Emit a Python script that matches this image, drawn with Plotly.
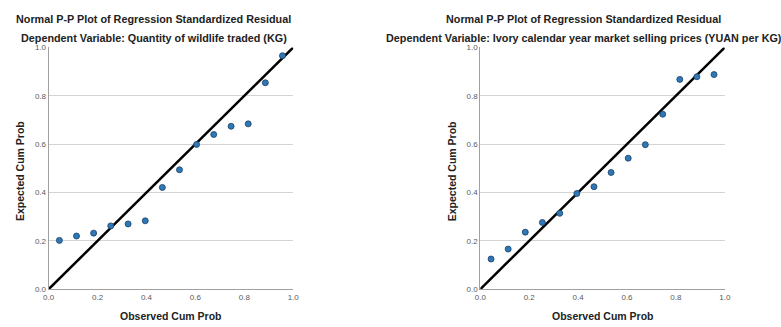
import plotly.graph_objects as go

# ---- data ----
obs_left = [0.044, 0.114, 0.184, 0.254, 0.325, 0.395, 0.465, 0.535, 0.605, 0.675, 0.746, 0.816, 0.886, 0.956]
exp_left = [0.202, 0.220, 0.232, 0.262, 0.270, 0.283, 0.421, 0.494, 0.599, 0.640, 0.674, 0.684, 0.854, 0.966]

obs_right = [0.044, 0.114, 0.184, 0.254, 0.325, 0.395, 0.465, 0.535, 0.605, 0.675, 0.746, 0.816, 0.886, 0.956]
exp_right = [0.125, 0.166, 0.236, 0.276, 0.314, 0.396, 0.424, 0.483, 0.542, 0.598, 0.724, 0.868, 0.879, 0.888]

title_main = "Normal P-P Plot of Regression Standardized Residual"
title_left = "Dependent Variable: Quantity of wildlife traded (KG)"
title_right = "Dependent Variable: Ivory calendar year market selling prices (YUAN per KG)"
x_title = "Observed Cum Prob"
y_title = "Expected Cum Prob"
tick_vals = [0.0, 0.2, 0.4, 0.6, 0.8, 1.0]
tick_text = ["0.0", "0.2", "0.4", "0.6", "0.8", "1.0"]

W, H = 781, 327
FONT = "Liberation Sans, Arial, sans-serif"
MARK = "#2E78B7"

fig = go.Figure()

for i, (xs, ys) in enumerate([(obs_left, exp_left), (obs_right, exp_right)]):
    xa = "x" if i == 0 else "x2"
    ya = "y" if i == 0 else "y2"
    fig.add_trace(go.Scatter(x=[0, 1], y=[0, 1], mode="lines",
                             line=dict(color="black", width=2.5),
                             xaxis=xa, yaxis=ya, cliponaxis=False,
                             showlegend=False, hoverinfo="skip"))
    fig.add_trace(go.Scatter(x=xs, y=ys, mode="markers",
                             marker=dict(color=MARK, size=6,
                                         line=dict(color="#1B3F63", width=0.8)),
                             xaxis=xa, yaxis=ya, cliponaxis=False,
                             showlegend=False))

xdom_l = [43.3 / W, 291.7 / W]
xdom_r = [481.7 / W, 730.0 / W]
ydom = [(H - 293.3) / H, (H - 44.7) / H]

axis_common = dict(range=[0, 1], tickvals=tick_vals, ticktext=tick_text,
                   tickfont=dict(family=FONT, size=8, color="#5A5A5A"),
                   showline=True, linecolor="#A0A0A0", linewidth=1,
                   zeroline=False, ticks="", fixedrange=True)

fig.update_layout(
    width=W, height=H,
    margin=dict(l=0, r=0, t=0, b=0),
    paper_bgcolor="white", plot_bgcolor="white",
    xaxis=dict(domain=xdom_l, anchor="y", showgrid=False, **axis_common),
    yaxis=dict(domain=ydom, anchor="x", showgrid=True, gridcolor="#D3D3D3",
               gridwidth=1, **axis_common),
    xaxis2=dict(domain=xdom_r, anchor="y2", showgrid=False, **axis_common),
    yaxis2=dict(domain=ydom, anchor="x2", showgrid=True, gridcolor="#D3D3D3",
                gridwidth=1, **axis_common),
)

annos = []
for cx, sub, ytx in [(150 / W, title_left, 14 / W), (587 / W, title_right, 453 / W)]:
    annos.append(dict(text="<b>" + title_main + "</b>", x=cx, y=(H - 15) / H,
                      xref="paper", yref="paper", showarrow=False,
                      xanchor="center", yanchor="middle",
                      font=dict(family=FONT, size=10.8, color="#222222")))
    annos.append(dict(text="<b>" + sub + "</b>", x=cx, y=(H - 35) / H,
                      xref="paper", yref="paper", showarrow=False,
                      xanchor="center", yanchor="middle",
                      font=dict(family=FONT, size=10.8, color="#222222")))
    annos.append(dict(text="<b>" + y_title + "</b>", x=ytx, y=(H - 172) / H,
                      xref="paper", yref="paper", showarrow=False, textangle=-90,
                      xanchor="center", yanchor="middle",
                      font=dict(family=FONT, size=10.5, color="#222222")))
for dom in (xdom_l, xdom_r):
    annos.append(dict(text="<b>" + x_title + "</b>", x=(dom[0] + dom[1]) / 2,
                      y=(H - 321) / H, xref="paper", yref="paper", showarrow=False,
                      xanchor="center", yanchor="middle",
                      font=dict(family=FONT, size=10.5, color="#222222")))
fig.update_layout(annotations=annos)

fig.write_html("out.html")
